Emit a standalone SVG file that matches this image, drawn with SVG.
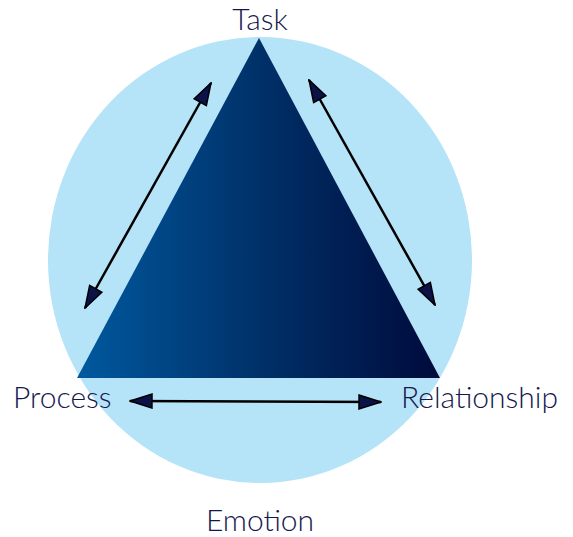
<svg xmlns="http://www.w3.org/2000/svg" width="573" height="537" viewBox="0 0 573 537">
<defs>
<linearGradient id="tri" x1="77" y1="0" x2="440" y2="0" gradientUnits="userSpaceOnUse">
<stop offset="0" stop-color="#00599f"/>
<stop offset="0.5" stop-color="#003169"/>
<stop offset="1" stop-color="#000a3b"/>
</linearGradient>
<marker id="ah" viewBox="0 0 24 16" refX="23" refY="8" markerWidth="24" markerHeight="16" markerUnits="userSpaceOnUse" orient="auto-start-reverse">
<path d="M1,1 L23,8 L1,15 Z" fill="#0a1247" stroke="#000" stroke-width="1.5" stroke-linejoin="miter"/>
</marker>
<style>
.lbl{font-family:Lato,"Open Sans",sans-serif;font-weight:300;font-size:30px;fill:#16184d}
.arr{stroke:#000;stroke-width:2.5;fill:none;marker-start:url(#ah);marker-end:url(#ah)}
</style>
</defs>
<g id="background">
<ellipse cx="260" cy="260" rx="212" ry="223" fill="#b5e3f8"/>
</g>
<g id="triangle">
<polygon points="259,38 77,378 440,378" fill="url(#tri)"/>
</g>
<g id="connectors">
<line class="arr" x1="85" y1="308" x2="211" y2="83"/>
<line class="arr" x1="309" y1="80" x2="435" y2="305"/>
<line class="arr" x1="130" y1="401" x2="381" y2="402"/>
</g>
<g id="task"><text class="lbl" x="260" y="30" text-anchor="middle">Task</text></g>
<g id="process"><text class="lbl" x="13" y="408">Process</text></g>
<g id="relationship"><text class="lbl" x="401" y="408">Relationship</text></g>
<g id="emotion"><text class="lbl" x="260" y="531" text-anchor="middle">Emotion</text></g>
</svg>
